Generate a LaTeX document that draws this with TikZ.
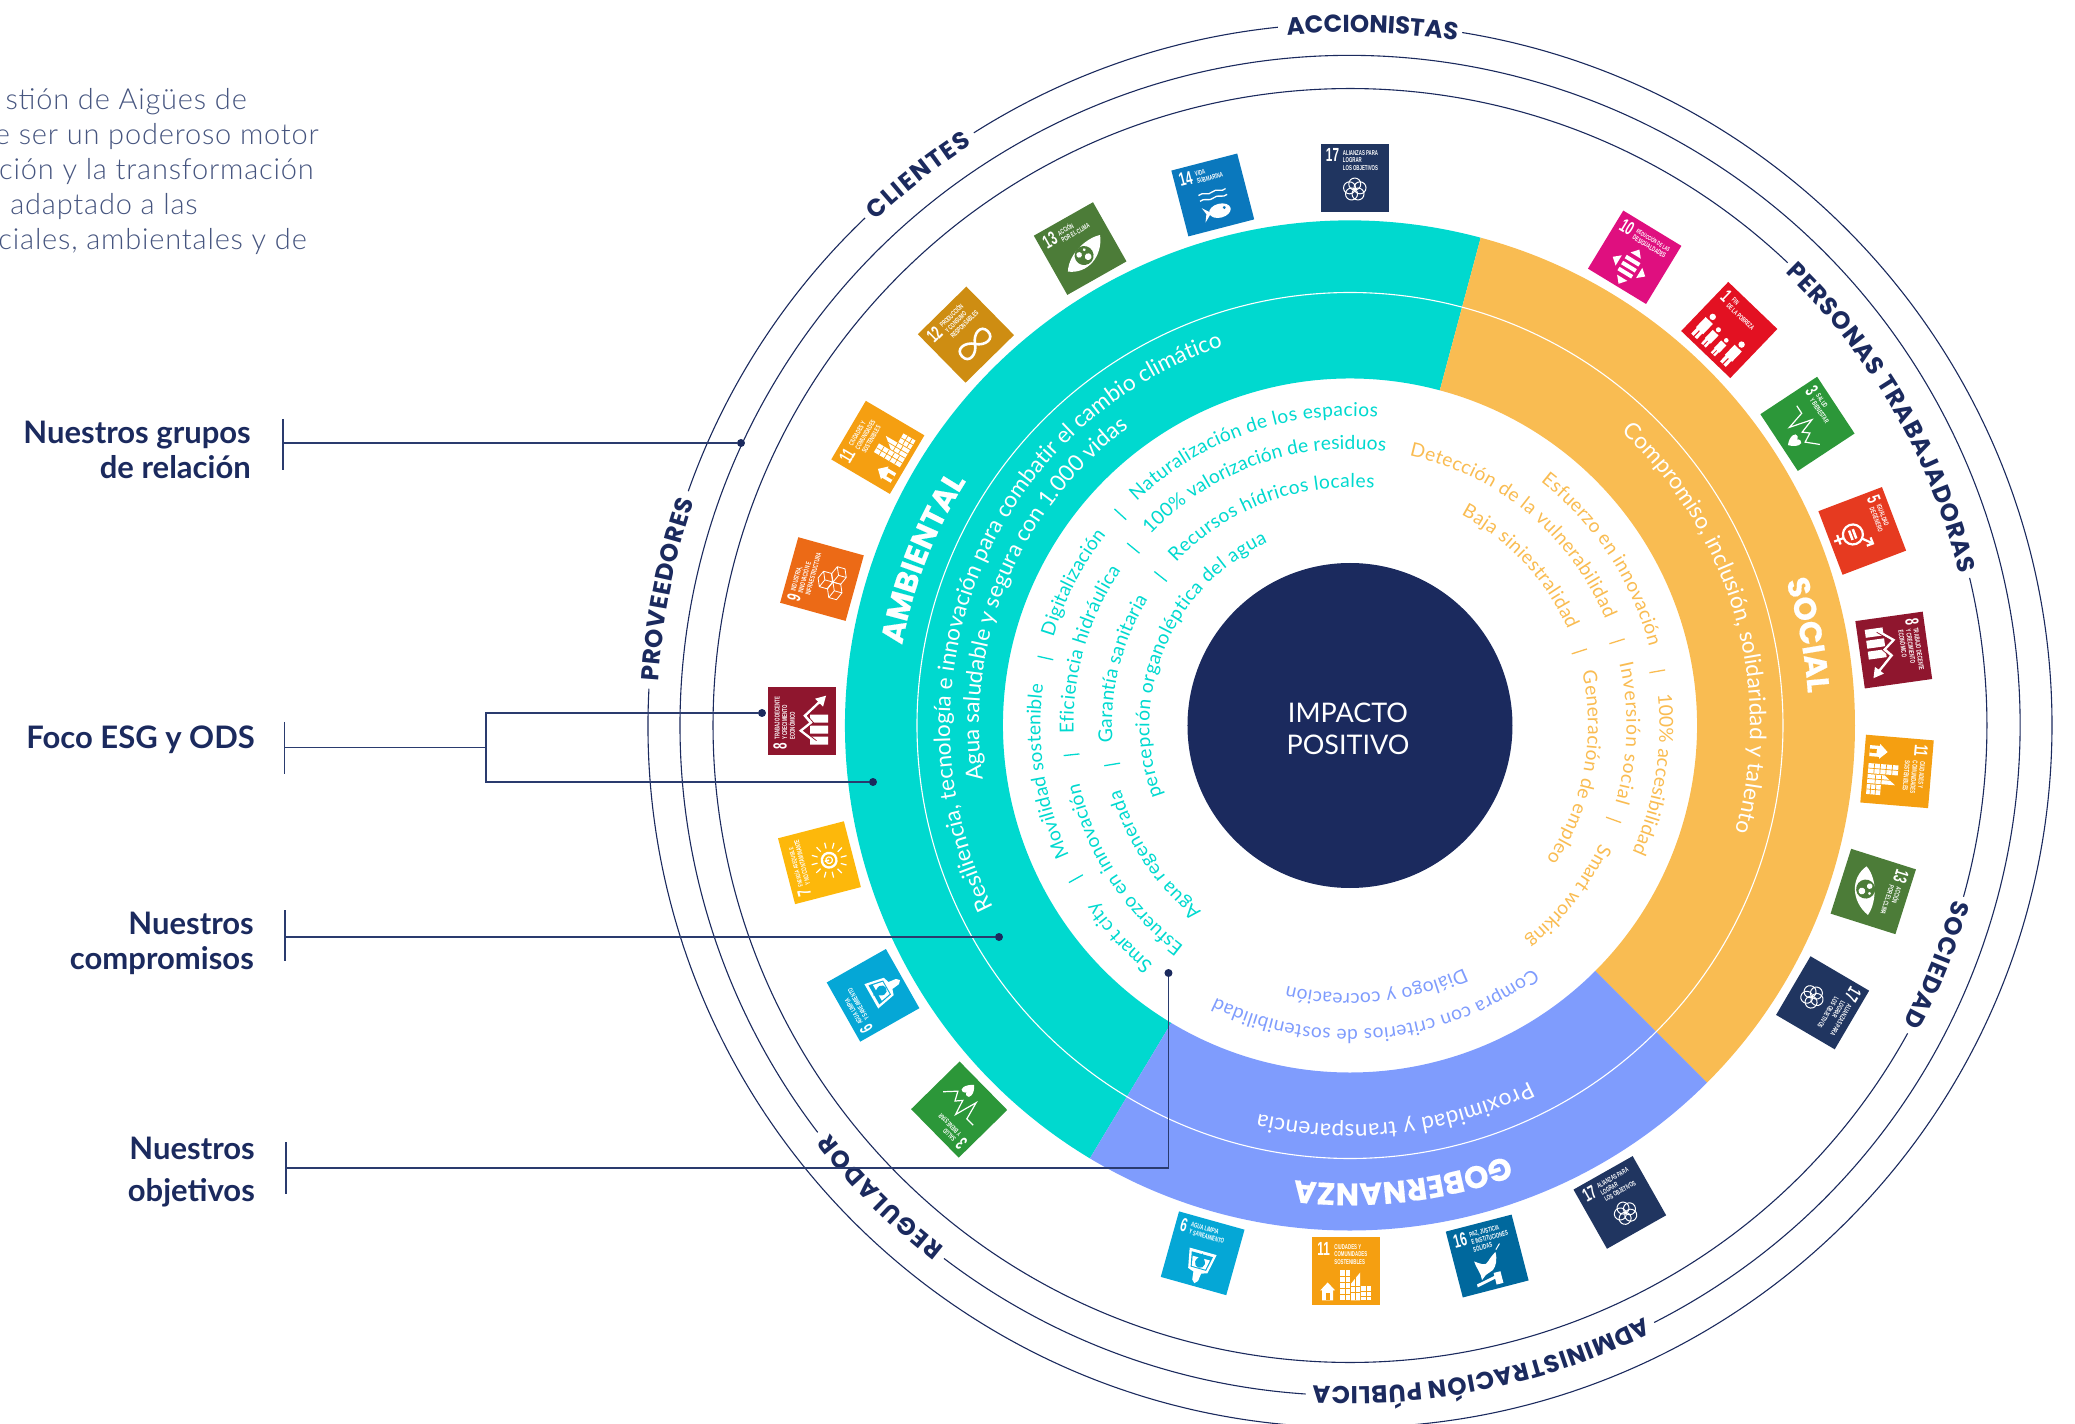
\documentclass[tikz,border=0pt]{standalone}
\usepackage{fontspec}
\usetikzlibrary{decorations.text}
\setmainfont{Lato}
\newfontfamily\latolight[LetterSpace=2.8]{Lato Light}
\newfontfamily\poppinsf{Poppins}
\newfontfamily\poppinsheavy[FakeBold=0.5]{Poppins Bold}
\newfontfamily\latobold{Lato Bold}
\newfontfamily\sdgfont[FakeStretch=0.62]{Liberation Sans Bold}
\definecolor{navy}{HTML}{1B2A5E}
\definecolor{lnavy}{HTML}{2A3B6E}
\definecolor{para}{HTML}{46557F}
\definecolor{tealc}{HTML}{00D9CF}
\definecolor{orangec}{HTML}{F9BC52}
\definecolor{perib}{HTML}{7F9CFD}
\definecolor{s17}{HTML}{203560}
\definecolor{s16}{HTML}{00689D}
\definecolor{s14}{HTML}{0A78BD}
\definecolor{s13}{HTML}{4C7C38}
\definecolor{s12}{HTML}{CE8D12}
\definecolor{s11}{HTML}{F59F11}
\definecolor{s10}{HTML}{DF0F7F}
\definecolor{s9}{HTML}{EC6A16}
\definecolor{s8}{HTML}{8F162E}
\definecolor{s7}{HTML}{FDB80B}
\definecolor{s6}{HTML}{05A7D6}
\definecolor{s5}{HTML}{E63A20}
\definecolor{s3}{HTML}{2C9739}
\definecolor{s1}{HTML}{E31122}
\tikzset{
  x=1pt,y=1pt,
  orbit/.style={navy,line width=1.1pt},
  leader/.style={lnavy,line width=1.1pt},
  enddot/.style={circle,fill=navy,inner sep=0pt,minimum size=8pt},
  lab/.style={font=\latobold\fontsize{31}{35}\selectfont,text=navy,align=right,anchor=east,inner sep=0pt},
  paraline/.style={font=\latolight\fontsize{29}{32}\selectfont,text=para,anchor=mid east,inner sep=0pt},
  ic/.style={white,line width=1pt},
}
% radius, start, end, font+colour, text; an invisible closing group takes the place of the letter the decoration may lose
\newcommand{\ctext}[5]{\path[decorate,decoration={text along path,text align=fit to path,
   text={|#4|#5{\kern.1pt}}}] (#2:#1) arc[start angle=#2,end angle=#3,radius=#1];}
\newcommand{\smf}[1]{\fontspec{Lato}\fontsize{19.2}{19.2}\selectfont\color{#1}}
\newcommand{\mdf}{\fontspec{Lato}\fontsize{22.6}{22.6}\selectfont\color{white}}
\newcommand{\bigf}{\poppinsheavy\fontsize{31}{31}\selectfont\color{white}}
\newcommand{\grp}{\poppinsf\bfseries\fontsize{24.5}{24.5}\selectfont\color{navy}}
\newcommand{\tickm}[3]{\draw[#3,line width=1.3pt] (#1:#2-8) -- (#1:#2+8);}
% angle, radius, rot, colour, number, title, icon
\newcommand{\sdg}[7]{\begin{scope}[shift={(#1:#2)},rotate=#3,transform shape]
  \colorlet{sdgc}{#4}
  \fill[#4] (-34,-34) rectangle (34,34);
  \node[anchor=north west,inner sep=0pt,text=white,font=\sdgfont\fontsize{19}{19}\selectfont] at (-29,29) {#5};
  \ifnum#5>9\def\sdgtx{-12}\else\def\sdgtx{-19}\fi
  \node[anchor=north west,inner sep=0pt,text=white,align=left,font=\sdgfont\fontsize{7}{7.6}\selectfont] at (\sdgtx,27.5) {#6};
  #7
\end{scope}}
\newcommand{\icPartner}{\foreach \a in {90,162,234,306,18}{\draw[ic] (0,-12)++(\a:5.5) circle[radius=6];}}
\newcommand{\icFish}{\draw[white,line width=1.3pt] (-14,3) .. controls (-9,6) and (-5,0) .. (0,3) .. controls (5,6) and (9,0) .. (14,3);
  \draw[white,line width=1.3pt] (-14,-3) .. controls (-9,0) and (-5,-6) .. (0,-3) .. controls (5,0) and (9,-6) .. (14,-3);
  \fill[white] (3,-17) ellipse[x radius=11,y radius=7];
  \fill[white] (-6,-17) -- (-14,-10) -- (-11,-17) -- (-14,-25) -- cycle;
  \fill[sdgc] (8,-15) circle[radius=1.6];}
\newcommand{\icEye}{\fill[white] (-22,-14) .. controls (-12,2) and (12,6) .. (24,2) .. controls (16,-18) and (-6,-26) .. (-22,-14) -- cycle;
  \fill[sdgc] (0,-8) circle[radius=9.5];
  \fill[white] (-4,-5) circle[radius=2.8] (3,-11) circle[radius=3.4] (3,-3) circle[radius=1.6];}
\newcommand{\icInf}{\draw[white,line width=2.6pt] (0,-13) .. controls (6,-4) and (18,-3) .. (18,-13) .. controls (18,-23) and (6,-22) .. (0,-13) .. controls (-6,-4) and (-18,-3) .. (-18,-13) .. controls (-18,-23) and (-6,-22) .. (0,-13);}
\newcommand{\icCity}{\fill[white] (-6,-29) rectangle (4,1);
  \fill[white] (5,-29) -- (5,-12) -- (14,-1) -- (14,-29) -- cycle;
  \fill[white] (15,-29) rectangle (25,-15);
  \fill[white] (-24,-29) rectangle (-13,-19) (-26,-19) -- (-18.5,-11) -- (-11,-19) -- cycle;
  \draw[sdgc,line width=.7pt] (-6,-5) -- (4,-5) (-6,-11) -- (4,-11) (-6,-17) -- (4,-17) (-6,-23) -- (4,-23) (-1,1) -- (-1,-29)
     (5,-15) -- (14,-15) (5,-21) -- (14,-21) (9.5,-6) -- (9.5,-29) (15,-20) -- (25,-20) (15,-25) -- (25,-25) (20,-15) -- (20,-29);
  \fill[sdgc] (-20.5,-29) rectangle (-16.5,-22);}
\newcommand{\icIneq}{\fill[white] (-8,-2) rectangle (8,-6) (-8,-9) rectangle (8,-13) (-8,-16) rectangle (8,-20);
  \fill[white] (-6,2) -- (0,9) -- (6,2) -- cycle (-6,-24) -- (0,-31) -- (6,-24) -- cycle (-12,-5) -- (-19,-11) -- (-12,-17) -- cycle (12,-5) -- (19,-11) -- (12,-17) -- cycle;}
\newcommand{\icCube}{\foreach \px/\py in {0/-3,-8/-15,8/-15}{\begin{scope}[shift={(\px,\py)}]\draw[white,line width=.8pt] (0,7) -- (8,3.5) -- (8,-4.5) -- (0,-8) -- (-8,-4.5) -- (-8,3.5) -- cycle (-8,3.5) -- (0,0) -- (8,3.5) (0,0) -- (0,-8);\end{scope}}}
\newcommand{\icGrowth}{\fill[white] (-24,-26) rectangle (-16,-8) (-13,-26) rectangle (-5,-8) (-2,-26) rectangle (6,-8);
  \draw[white,line width=2.6pt] (-20,-12) -- (-10,1) -- (-2,-9) -- (5,-3) -- (20,-19);
  \draw[sdgc,line width=.7pt] (-20,-14.5) -- (-10,-1.5) -- (-2,-11.5) -- (5,-5.5) -- (16,-17);
  \fill[white] (25,-24) -- (22,-13) -- (14,-21) -- cycle;}
\newcommand{\icSun}{\fill[white] (0,-10) circle[radius=8.5]; \fill[sdgc] (0,-10) circle[radius=6]; \fill[white] (0,-10) circle[radius=4]; \fill[sdgc] (0,-10) circle[radius=2.6]; \fill[white] (-.8,-10) rectangle (.8,-5.5);
  \foreach \a in {0,30,...,330}{\draw[white,line width=1.2pt] (0,-10)++(\a:12) -- ++(\a:6);}}
\newcommand{\icWater}{\fill[white] (-14,2) -- (14,2) -- (10,-18) -- (4,-20) -- (3,-28) -- (0,-31) -- (-3,-28) -- (-4,-20) -- (-10,-18) -- cycle;
  \fill[sdgc] (-11,-1) -- (11,-1) -- (8,-16) -- (-8,-16) -- cycle;
  \fill[white] (-9,-5) -- (9,-5) -- (7,-15) -- (-7,-15) -- cycle;
  \fill[sdgc] (0,0) .. controls (2,-5) and (5,-7) .. (5,-10) arc[start angle=0,end angle=-180,radius=5] .. controls (-5,-7) and (-2,-5) .. (0,0);}
\newcommand{\icGender}{\draw[white,line width=2.2pt] (0,-10) circle[radius=10];
  \fill[white] (-5,-7) rectangle (5,-9.5) (-5,-11) rectangle (5,-13.5);
  \draw[white,line width=2.2pt] (7,-3) -- (15,5) (9,5.5) -- (15.5,5.5) -- (15.5,-1) (0,-20) -- (0,-30) (-5,-25) -- (5,-25);}
\newcommand{\icHealth}{\draw[white,line width=1.2pt] (-21,1) -- (-12,1) -- (-7,-17) -- (-1,6) -- (4,-9) -- (9,-3) -- (14,-12) -- (24,-1);
  \fill[white] (7,-28) .. controls (0,-22) and (0,-14) .. (5,-15) .. controls (7,-15.5) and (7,-17) .. (7,-18) .. controls (7,-17) and (8,-15.5) .. (10,-15) .. controls (15,-14) and (14,-22) .. (7,-28);}
\newcommand{\icPeople}{\foreach \px/\ph in {-21/1,-8/.8,5/.72,19/1}{\begin{scope}[shift={(\px,-29)},yscale=\ph,xscale=\ph]
  \fill[white] (0,27) circle[radius=3.2]; \fill[white] (-5,22) rectangle (5,8) (-4,8) rectangle (-.7,0) (.7,8) rectangle (4,0);\end{scope}}}
\newcommand{\icPeace}{\fill[white] (-14,-2) .. controls (-8,-6) and (-4,-10) .. (0,-5) .. controls (3,-2) and (6,0) .. (9,2) .. controls (9,-6) and (6,-12) .. (2,-15) -- (-6,-18) -- (-11,-22) .. controls (-10,-15) and (-14,-8) .. (-14,-2);
  \draw[white,line width=1pt] (10,4) -- (15,9);
  \fill[white] (-17,-25) -- (2,-21) -- (2,-24) -- (-17,-28) -- cycle (2,-18) rectangle (9,-30);}
\newcommand{\tight}{\fontsize{6.1}{7.4}\selectfont}
\begin{document}
\begin{tikzpicture}
\useasboundingbox (-1350,-698.5) rectangle (725,725.5);
\clip (-1350,-698.5) rectangle (725,725.5);
% paragraph, cut off by the left edge
\node[paraline] (p1) at (-1103,618.5) {stión de Aigües de};
\node[paraline] (p2) at (-1031,583.5) {e ser un poderoso motor};
\node[paraline] (p3) at (-1036,548.5) {ción y la transformación};
\node[paraline] (p4) at (-1152,513.5) {adaptado a las};
\node[paraline] (p5) at (-1043,478.5) {ciales, ambientales y de};
% rings
\fill[tealc] (75:505) arc[start angle=75,end angle=239,radius=505] -- (239:347) arc[start angle=239,end angle=75,radius=347] -- cycle;
\fill[orangec] (-45:505) arc[start angle=-45,end angle=75,radius=505] -- (75:347) arc[start angle=75,end angle=-45,radius=347] -- cycle;
\fill[perib] (239:505) arc[start angle=239,end angle=315,radius=505] -- (-45:347) arc[start angle=-45,end angle=-121,radius=347] -- cycle;
\draw[white,line width=1.1pt] (0,0) circle[radius=433];
\node[circle,fill=navy,minimum size=325pt,inner sep=0pt] (core) at (0,0) {};
\node[text=white,align=center,font=\fontsize{27}{32}\selectfont,inner sep=0pt] (coret) at (-2,-3.5) {IMPACTO\\POSITIVO};
% outer orbits with gaps
\draw[orbit] (95.9:702) arc[start angle=95.9,end angle=122.4,radius=702];
\draw[orbit] (133.7:702) arc[start angle=133.7,end angle=160.5,radius=702];
\draw[orbit] (177:702) arc[start angle=177,end angle=440.8,radius=702];
\draw[orbit] (232.7:670) arc[start angle=232.7,end angle=266.2,radius=670];
\draw[orbit] (297:670) arc[start angle=297,end angle=577.4,radius=670];
\draw[orbit] (-15.6:637) arc[start angle=-15.6,end angle=13.4,radius=637];
\draw[orbit] (46.6:637) arc[start angle=46.6,end angle=331.1,radius=637];
\ctext{693}{95.2}{81.3}{\grp}{ACCIONISTAS}
\ctext{693}{133.2}{122.9}{\grp}{CLIENTES}
\ctext{693}{176.4}{161}{\grp}{PROVEEDORES}
\ctext{661}{232.2}{217.9}{\grp}{REGULADOR}
\ctext{661}{296.5}{266.7}{\grp}{ADMINISTRACIÓN PÚBLICA}
\ctext{628}{-16.1}{-28.4}{\grp}{SOCIEDAD}
\ctext{628}{46.1}{13.9}{\grp}{PERSONAS TRABAJADORAS}
% ring headings and statements
\ctext{455}{169.8}{148.1}{\bigf}{AMBIENTAL}
\ctext{459}{18.3}{4}{\bigf}{SOCIAL}
\ctext{458}{-69.9}{-96.8}{\bigf}{GOBERNANZA}
\ctext{400}{207}{108.5}{\mdf}{Resiliencia, tecnología e innovación para combatir el cambio climático}
\ctext{371}{188.4}{126.8}{\mdf}{Agua saludable y segura con 1.000 vidas}
\ctext{400}{47.2}{-15}{\mdf}{Compromiso, inclusión, solidaridad y talento}
\ctext{399}{-63.3}{-103.3}{\mdf}{Proximidad y transparencia}
% inner texts, teal
\ctext{309.5}{204.9}{172.4}{\smf{tealc}}{Movilidad sostenible}
\ctext{309.5}{163.4}{141.9}{\smf{tealc}}{Digitalización}
\ctext{309.5}{133.6}{84.8}{\smf{tealc}}{Naturalización de los espacios}
\ctext{309.5}{230.5}{215.2}{\smf{tealc}}{Smart city}
\ctext{276.5}{181.7}{145.8}{\smf{tealc}}{Eficiencia hidráulica}
\ctext{276.5}{136.2}{82.6}{\smf{tealc}}{100{\%} valorización de residuos}
\ctext{276.5}{233.1}{192}{\smf{tealc}}{Esfuerzo en innovación}
\ctext{238}{184.1}{148}{\smf{tealc}}{Garantía sanitaria}
\ctext{238}{136.9}{84.1}{\smf{tealc}}{Recursos hídricos locales}
\ctext{238}{231.4}{195.5}{\smf{tealc}}{Agua regenerada}
\ctext{200.5}{200.5}{114.1}{\smf{tealc}}{percepción organoléptica del agua}
% inner texts, orange
\ctext{309.5}{52}{14.7}{\smf{orangec}}{Esfuerzo en innovación}
\ctext{309.5}{5.8}{-24.2}{\smf{orangec}}{100{\%} accesibilidad}
\ctext{276.5}{77.6}{22.5}{\smf{orangec}}{Detección de la vulnerabilidad}
\ctext{276.5}{13}{-16.5}{\smf{orangec}}{Inversión social}
\ctext{276.5}{-25.3}{-50}{\smf{orangec}}{Smart working}
\ctext{238}{62.2}{23.6}{\smf{orangec}}{Baja siniestralidad}
\ctext{238}{13}{-34.5}{\smf{orangec}}{Generación de empleo}
% inner texts, periwinkle
\ctext{304}{-53}{-116.2}{\smf{perib}}{Compra con criterios de sostenibilidad}
\ctext{268}{-64.8}{-103.7}{\smf{perib}}{Diálogo y cocreación}
% separators
\tickm{167.5}{312}{tealc}
\tickm{137.4}{312}{tealc}
\tickm{186}{280}{tealc}
\tickm{140.7}{280}{tealc}
\tickm{189.3}{241}{tealc}
\tickm{141.8}{241}{tealc}
\tickm{209.2}{314}{tealc}
\tickm{10}{312}{orangec}
\tickm{17.5}{280}{orangec}
\tickm{17.9}{241}{orangec}
\tickm{-19.7}{280}{orangec}
% SDG tiles
\sdg{224.5}{548}{134.5}{s3}{3}{SALUD\\Y BIENESTAR}{\icHealth}
\sdg{209.5}{548}{119.5}{s6}{6}{AGUA LIMPIA\\Y SANEAMIENTO}{\icWater}
\sdg{194.5}{548}{104.5}{s7}{7}{\tight ENERGÍA ASEQUIBLE\\Y NO CONTAMINANTE}{\icSun}
\sdg{179.5}{548}{90}{s8}{8}{TRABAJO DECENTE\\Y CRECIMIENTO\\ECONÓMICO}{\icGrowth}
\sdg{164.5}{548}{74.5}{s9}{9}{INDUSTRIA,\\INNOVACIÓN E\\INFRAESTRUCTURA}{\icCube}
\sdg{149.5}{548}{59.5}{s11}{11}{CIUDADES Y\\COMUNIDADES\\SOSTENIBLES}{\icCity}
\sdg{134.5}{548}{44.5}{s12}{12}{PRODUCCIÓN\\Y CONSUMO\\RESPONSABLES}{\icInf}
\sdg{119.5}{548}{29.5}{s13}{13}{ACCIÓN\\POR EL CLIMA}{\icEye}
\sdg{104.5}{548}{14.5}{s14}{14}{VIDA\\SUBMARINA}{\icFish}
\sdg{89.5}{548}{0}{s17}{17}{ALIANZAS PARA\\LOGRAR\\LOS OBJETIVOS}{\icPartner}
\sdg{58.7}{548}{-31.3}{s10}{10}{\tight REDUCCIÓN DE LAS\\DESIGUALDADES}{\icIneq}
\sdg{46.2}{548}{-43.8}{s1}{1}{FIN\\DE LA POBREZA}{\icPeople}
\sdg{33.4}{548}{-56.6}{s3}{3}{SALUD\\Y BIENESTAR}{\icHealth}
\sdg{20.8}{548}{-69.2}{s5}{5}{IGUALDAD\\DE GÉNERO}{\icGender}
\sdg{7.9}{549}{-82}{s8}{8}{TRABAJO DECENTE\\Y CRECIMIENTO\\ECONÓMICO}{\icGrowth}
\sdg{-4.8}{549}{-94.8}{s11}{11}{CIUDADES Y\\COMUNIDADES\\SOSTENIBLES}{\icCity}
\sdg{-17.6}{549}{-107.6}{s13}{13}{ACCIÓN\\POR EL CLIMA}{\icEye}
\sdg{-30.4}{548}{-120.4}{s17}{17}{ALIANZAS PARA\\LOGRAR\\LOS OBJETIVOS}{\icPartner}
\sdg{-60.5}{548}{29.5}{s17}{17}{ALIANZAS PARA\\LOGRAR\\LOS OBJETIVOS}{\icPartner}
\sdg{-75.5}{548}{14.5}{s16}{16}{PAZ, JUSTICIA\\E INSTITUCIONES\\SÓLIDAS}{\icPeace}
\sdg{-90.4}{546}{0}{s11}{11}{CIUDADES Y\\COMUNIDADES\\SOSTENIBLES}{\icCity}
\sdg{-105.6}{548}{-15.6}{s6}{6}{AGUA LIMPIA\\Y SANEAMIENTO}{\icWater}
% left labels
\node[lab] (labA) at (-1099,275.5) {Nuestros grupos\\de relación};
\node[lab] (labB) at (-1095,-14) {Foco ESG y ODS};
\node[lab] (labC) at (-1096,-218) {Nuestros\\compromisos};
\node[lab,font=\latobold\fontsize{31}{42}\selectfont] (labD) at (-1095,-447) {Nuestros\\objetivos};
% brackets and leaders
\coordinate (ta1) at (-1067,306.5); \coordinate (ta2) at (-1067,255.5); \coordinate (tam) at (-1067,282.5);
\coordinate (tb1) at (-1065.5,3.5); \coordinate (tb2) at (-1065.5,-48.5); \coordinate (tbm) at (-1065.5,-22);
\coordinate (tc1) at (-1065,-184.5); \coordinate (tc2) at (-1065,-235.5); \coordinate (tcm) at (-1065,-211.5);
\coordinate (td1) at (-1064,-416.5); \coordinate (td2) at (-1064,-468.5); \coordinate (tdm) at (-1064,-442.5);
\coordinate (fork) at (-864,-22);
\coordinate (fork1) at (-864,12.5);
\coordinate (fork2) at (-864,-56.5);
\coordinate (corner) at (-181.5,-442.5);
\node[enddot] (dA) at (-609,282.5) {};
\node[enddot] (dB1) at (-588,12.5) {};
\node[enddot] (dB2) at (-477,-56.5) {};
\node[enddot] (dC) at (-351,-211.5) {};
\node[enddot] (dD) at (-181.5,-247.5) {};
\draw[leader] (ta1) -- (ta2);
\draw[leader] (tb1) -- (tb2);
\draw[leader] (tc1) -- (tc2);
\draw[leader] (td1) -- (td2);
\draw[leader] (tam) -- (dA);
\draw[leader] (tbm) -- (fork);
\draw[leader] (dB1) -- (fork1) -- (fork2) -- (dB2);
\draw[leader] (tcm) -- (dC);
\draw[leader] (tdm) -- (corner) -- (dD);
\end{tikzpicture}
\end{document}
